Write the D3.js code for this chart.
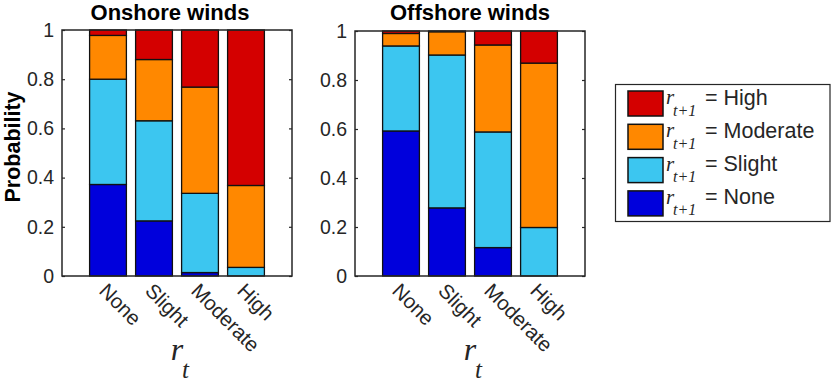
<!DOCTYPE html>
<html>
<head>
<meta charset="utf-8">
<script src="https://cdn.jsdelivr.net/npm/d3@7"></script>
<style>
  body { margin: 0; background: #fff; }
  svg { display: block; }
  text { font-family: "Liberation Sans", Arial, sans-serif; fill: #262626; }
  .serif { font-family: "Liberation Serif", "Times New Roman", serif; font-style: italic; }
</style>
</head>
<body>
<div id="chart"></div>
<script>
// current state r_t (x categories) and next state r_{t+1} (stacked series)
const categories = ["None", "Slight", "Moderate", "High"];
const seriesKeys = ["None", "Slight", "Moderate", "High"];
const seriesColors = ["#0000dc", "#3cc6f0", "#ff8800", "#d40000"];
const yTicks = [0, 0.2, 0.4, 0.6, 0.8, 1];
const yTickLabels = ["0", "0.2", "0.4", "0.6", "0.8", "1"];

// onshore winds, one array per next state
const onshoreNone = [0.372, 0.224, 0.014, 0];
const onshoreSlight = [0.428, 0.407, 0.322, 0.035];
const onshoreModerate = [0.178, 0.249, 0.432, 0.333];
const onshoreHigh = [0.022, 0.120, 0.232, 0.632];

// offshore winds
const offshoreNone = [0.592, 0.278, 0.116, 0];
const offshoreSlight = [0.347, 0.624, 0.472, 0.198];
const offshoreModerate = [0.051, 0.095, 0.355, 0.671];
const offshoreHigh = [0.010, 0.003, 0.057, 0.131];

const W = 831, H = 384;
const axisColor = "#262626";

const svg = d3.select("#chart").append("svg")
    .attr("width", W)
    .attr("height", H);

function drawPanel(opts) {
    const x = d3.scaleLinear().domain([0, 5]).range([opts.left, opts.right]);
    const y = d3.scaleLinear().domain([0, 1]).range([opts.bottom, opts.top]);
    const bw = x(0.8) - x(0);

    //build rows for the stack from the series arrays
    const rows = categories.map((c, i) => {
        const r = { cat: c, idx: i + 1 };
        seriesKeys.forEach((k, j) => { r[k] = opts.series[j][i]; });
        return r;
    });
    const stacked = d3.stack().keys(seriesKeys)(rows);

    const g = svg.append("g");

    // y axis left + right (ticks inside)
    const yAxisL = d3.axisLeft(y).tickValues(yTicks)
        .tickFormat((d, i) => yTickLabels[i])
        .tickSizeInner(-3).tickSizeOuter(0).tickPadding(8);
    const gl = g.append("g").attr("transform", `translate(${opts.left},0)`).call(yAxisL);
    gl.select(".domain").remove();
    gl.selectAll("line").attr("stroke", axisColor).attr("stroke-width", 1.2);
    gl.selectAll("text").style("font-size", "19.5px").attr("fill", axisColor)
        .style("font-family", "Liberation Sans, Arial, sans-serif");

    const yAxisR = d3.axisRight(y).tickValues(yTicks).tickFormat("")
        .tickSizeInner(-3).tickSizeOuter(0);
    const gr = g.append("g").attr("transform", `translate(${opts.right},0)`).call(yAxisR);
    gr.select(".domain").remove();
    gr.selectAll("line").attr("stroke", axisColor).attr("stroke-width", 1.2);

    // bars
    g.selectAll(".layer")
        .data(stacked)
        .enter()
        .append("g")
        .attr("class", "layer")
        .attr("fill", (d, i) => seriesColors[i])
        .selectAll("rect")
        .data(d => d)
        .enter()
        .append("rect")
        .attr("x", d => x(d.data.idx) - bw / 2)
        .attr("y", d => y(d[1]))
        .attr("width", bw)
        .attr("height", d => y(d[0]) - y(d[1]))
        .attr("stroke", "#111")
        .attr("stroke-width", 1.3);

    // axes box
    g.append("rect")
        .attr("x", opts.left)
        .attr("y", opts.top)
        .attr("width", opts.right - opts.left)
        .attr("height", opts.bottom - opts.top)
        .attr("fill", "none")
        .attr("stroke", axisColor)
        .attr("stroke-width", 1.5);

    // rotated x tick labels
    g.selectAll(".xlab")
        .data(categories)
        .enter()
        .append("text")
        .attr("class", "xlab")
        .attr("transform", (d, i) => `translate(${x(i + 1) - 5},${opts.bottom + 11}) rotate(45)`)
        .attr("dy", "0.35em")
        .attr("text-anchor", "start")
        .style("font-size", "20.5px")
        .text(d => d);

    // title
    g.append("text")
        .attr("x", opts.titleX)
        .attr("y", 19.5)
        .attr("text-anchor", "middle")
        .style("font-size", "22px")
        .style("font-weight", "bold")
        .style("fill", "#000")
        .text(opts.title);

    // x label r_t
    const cx = (opts.left + opts.right) / 2;
    g.append("text")
        .attr("class", "serif")
        .attr("x", cx)
        .attr("y", 360)
        .attr("text-anchor", "middle")
        .style("font-size", "32px")
        .text("r");
    g.append("text")
        .attr("class", "serif")
        .attr("x", cx + 5)
        .attr("y", 378)
        .style("font-size", "25px")
        .text("t");
}

drawPanel({
    left: 62, right: 292, top: 30, bottom: 276,
    title: "Onshore winds", titleX: 170,
    series: [onshoreNone, onshoreSlight, onshoreModerate, onshoreHigh]
});
drawPanel({
    left: 355, right: 585, top: 31, bottom: 276,
    title: "Offshore winds", titleX: 470,
    series: [offshoreNone, offshoreSlight, offshoreModerate, offshoreHigh]
});

// y label
svg.append("text")
    .attr("transform", "translate(20,147) rotate(-90)")
    .attr("text-anchor", "middle")
    .style("font-size", "21.5px")
    .style("font-weight", "bold")
    .style("fill", "#000")
    .text("Probability");

//////////////////// legend ////////////////////
const legend = svg.append("g");
legend.append("rect")
    .attr("x", 615.5).attr("y", 84.5)
    .attr("width", 214.5).attr("height", 137)
    .attr("fill", "#fff")
    .attr("stroke", axisColor)
    .attr("stroke-width", 1.2);

// legend lists High first
const legendOrder = [3, 2, 1, 0];
const rowsL = legend.selectAll(".lrow")
    .data(legendOrder)
    .enter()
    .append("g")
    .attr("class", "lrow")
    .attr("transform", (d, i) => `translate(0,${i * 33.3})`);

rowsL.append("rect")
    .attr("x", 628).attr("y", 91)
    .attr("width", 35).attr("height", 25)
    .attr("fill", d => seriesColors[d])
    .attr("stroke", "#111")
    .attr("stroke-width", 1.5);

rowsL.append("text")
    .attr("class", "serif")
    .attr("x", 666).attr("y", 104)
    .style("font-size", "21px")
    .text("r");
rowsL.append("text")
    .attr("class", "serif")
    .attr("x", 673).attr("y", 115.5)
    .style("font-size", "16px")
    .text("t+1");
rowsL.append("text")
    .attr("x", 705).attr("y", 104.5)
    .style("font-size", "21.5px")
    .text(d => "= " + seriesKeys[d]);
</script>
</body>
</html>
